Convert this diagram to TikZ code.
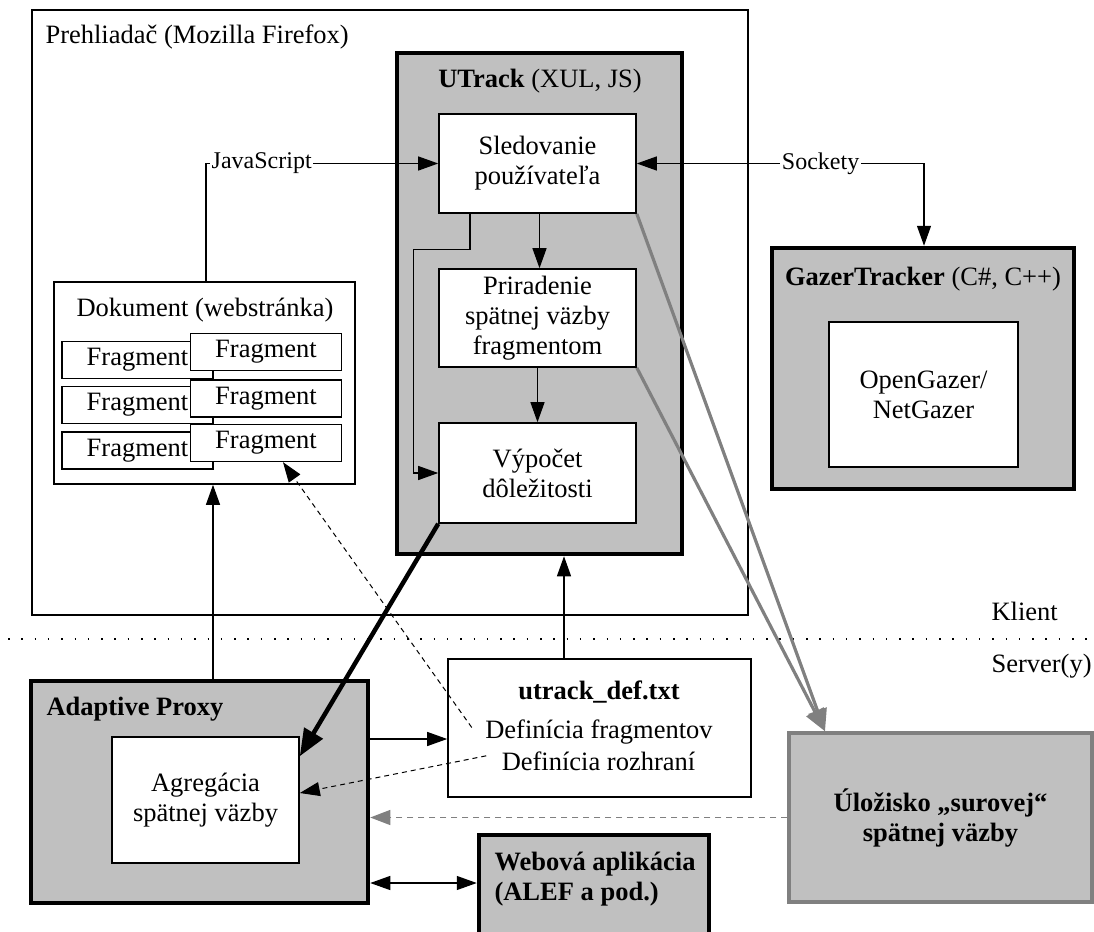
\documentclass[tikz,border=0pt]{standalone}
\usepackage{fontspec}
\setmainfont{Liberation Serif}
\usetikzlibrary{arrows.meta,calc}
\definecolor{fillgray}{HTML}{C0C0C0}
\definecolor{linegray}{HTML}{808080}
\tikzset{
  plainbox/.style={draw=black, fill=white, line width=1.6pt, inner sep=0pt, align=center, rectangle},
  fragbox/.style={plainbox, line width=1.4pt, minimum width=151pt, minimum height=37pt},
  graybox/.style={draw=black, fill=fillgray, line width=4.5pt, inner sep=0pt, align=center, rectangle},
  boldtxt/.style={font=\fontsize{26.5}{30}\selectfont\bfseries},
  lbl/.style={fill=white, inner sep=1.5pt, font=\fontsize{24}{28}\selectfont},
  conn/.style={line width=1.2pt, -{Triangle[length=20pt,width=14pt]}},
  biconn/.style={line width=1.2pt, {Triangle[length=20pt,width=14pt]}-{Triangle[length=20pt,width=14pt]}},
  dashconn/.style={line width=1pt, dash pattern=on 5pt off 4pt, -{Triangle[length=20pt,width=14pt]}},
  grayconn/.style={draw=linegray, line width=1.2pt, dash pattern=on 6pt off 5pt, -{Triangle[length=20pt,width=15pt,fill=linegray]}},
  thickconn/.style={line width=4.5pt, -{Triangle[length=27pt,width=21pt]}},
  grayline/.style={draw=linegray, line width=3.2pt, -{Triangle[length=22pt,width=19pt,fill=linegray]}},
  dotline/.style={line width=1.5pt, dash pattern=on 1.5pt off 11.8pt}
}
\begin{document}
\begin{tikzpicture}[x=1pt,y=-1pt, font=\fontsize{26.5}{30}\selectfont]
\useasboundingbox (0,0) rectangle (1094,931);

% browser
\node[plainbox, line width=1.8pt, minimum width=716pt, minimum height=605pt] (browser) at (390,312.5) {};
\node[anchor=base west] (browserlbl) at (42,44) {Prehliadač (Mozilla Firefox)};

% UTrack
\node[graybox, minimum width=285pt, minimum height=501pt] (utrack) at (539.5,303.5) {};
\node[anchor=base] (utracklbl) at (540,88) {\textbf{UTrack} (XUL, JS)};
\node[plainbox, minimum width=197pt, minimum height=99pt] (sled) at (537.5,163.5) {Sledovanie\\používateľa};
\node[plainbox, minimum width=197pt, minimum height=98pt] (prir) at (537.5,318) {Priradenie\\spätnej väzby\\fragmentom};
\node[plainbox, minimum width=197pt, minimum height=100pt] (vyp) at (537.5,473) {Výpočet\\dôležitosti};

% Dokument
\node[plainbox, minimum width=301pt, minimum height=202pt] (doc) at (204.5,383) {};
\node[anchor=base] (doclbl) at (205,316) {Dokument (webstránka)};
\node[fragbox] (fl1) at (137.5,360) {Fragment};
\node[fragbox] (fl2) at (137.5,405) {Fragment};
\node[fragbox] (fl3) at (137.5,450.5) {Fragment};
\node[fragbox] (fr1) at (266,352) {Fragment};
\node[fragbox] (fr2) at (266,398.5) {Fragment};
\node[fragbox] (fr3) at (266,443) {Fragment};

% GazerTracker
\node[graybox, minimum width=302pt, minimum height=241pt] (gazer) at (923,368.5) {};
\node[anchor=base] (gazerlbl) at (923,285) {\textbf{GazerTracker} (C\#, C++)};
\node[plainbox, minimum width=189pt, minimum height=145pt] (opengazer) at (923.5,394.5) {OpenGazer/\\NetGazer};

% client / server divider
\draw[dotline] (8,639) -- (1094,639);
\node[anchor=base west] (klient) at (988,620) {Klient};
\node[anchor=base west] (server) at (988,672) {Server(y)};

% Adaptive Proxy
\node[graybox, minimum width=337pt, minimum height=222pt] (proxy) at (199.5,792) {};
\node[anchor=base west, boldtxt] (proxylbl) at (43,715) {Adaptive Proxy};
\node[plainbox, minimum width=187pt, minimum height=126pt] (agg) at (205.5,800) {Agregácia\\spätnej väzby};

% utrack_def.txt
\node[plainbox, minimum width=303pt, minimum height=138pt] (def) at (599.5,728) {};
\node[anchor=base, boldtxt] (deftitle) at (599,699) {utrack\_def.txt};
\node[anchor=base] (deffrag) at (599,738) {Definícia fragmentov};
\node[anchor=base] (defroz) at (598.5,770) {Definícia rozhraní};

% Webova aplikacia
\node[graybox, minimum width=230pt, minimum height=110pt] (web) at (594,890) {};
\node[anchor=base west, align=left, boldtxt] (weblbl) at (491,900) {Webová aplikácia\\(ALEF a pod.)};

% Ulozisko
\node[graybox, draw=linegray, line width=3.4pt, minimum width=303pt, minimum height=169pt, boldtxt] (ulo) at (940.5,817.5) {Úložisko „surovej“\\spätnej väzby};

% connectors
\draw[conn] ([xshift=1.5pt]doc.north) |- node[lbl, pos=0.62] {JavaScript} (sled.west);
\draw[biconn] (sled.east) -| node[lbl, pos=0.32] {Sockety} ([xshift=1pt]gazer.north);
\draw[conn] ([xshift=2pt]sled.south) -- ([xshift=2pt]prir.north);
\draw[conn] (prir.south) -- (vyp.north);
\draw[conn] ([xshift=-67.5pt]sled.south) -- ++(0,36) -| ([xshift=-25pt]vyp.west) -- (vyp.west);

\coordinate (pa) at ([xshift=13.5pt]proxy.north);
\draw[conn] (pa) -- (pa |- doc.south);
\coordinate (pd) at ([xshift=-35.5pt]def.north);
\draw[conn] (pd) -- (pd |- utrack.south);
\coordinate (pe1) at ([yshift=53pt]proxy.east);
\draw[conn] (pe1) -- (pe1 -| def.west);
\coordinate (pe2) at ([yshift=-91pt]proxy.east);
\draw[biconn] (pe2) -- (pe2 -| web.west);

\draw[grayconn] (ulo.west) -- (ulo.west -| proxy.east);
\draw[dashconn] ([xshift=-10pt,yshift=4pt]deffrag.west) -- ([xshift=17pt]fr3.south);
\draw[dashconn] ([xshift=-12pt,yshift=5pt]defroz.west) -- ([yshift=7pt]agg.east);

\draw[thickconn] (vyp.south west) -- ([yshift=-20pt]agg.north east);
\draw[grayline] (sled.south east) -- ([xshift=-115.5pt]ulo.north);
\draw[grayline] (prir.south east) -- ([xshift=-115.5pt]ulo.north);
\end{tikzpicture}
\end{document}
